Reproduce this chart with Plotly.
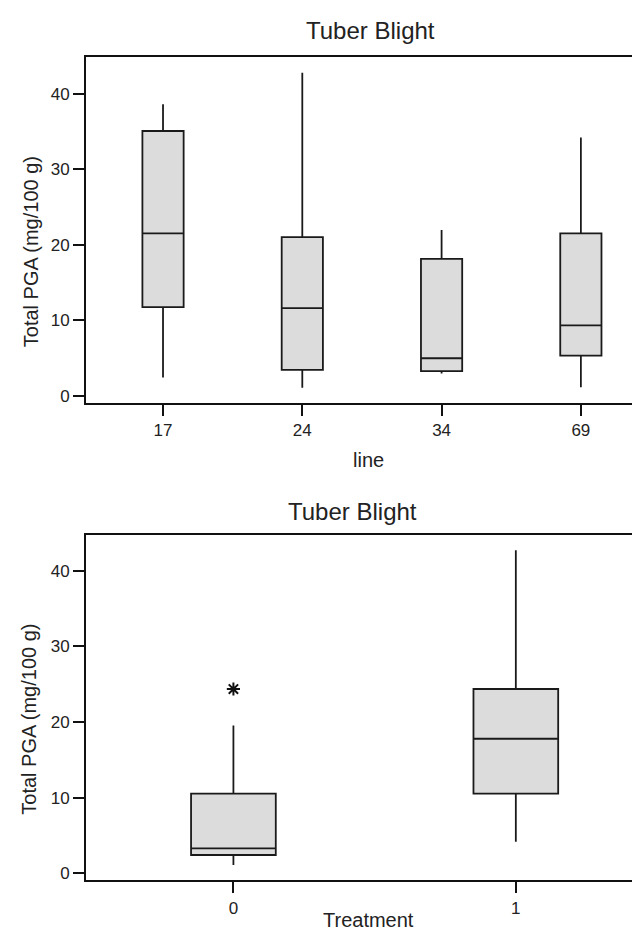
import plotly.graph_objects as go

W, H = 640, 932

# ---- data ----
lines = ["17", "24", "34", "69"]
line_q1 = [11.75, 3.43, 3.26, 5.32]
line_median = [21.5, 11.6, 4.97, 9.33]
line_q3 = [35.07, 21.0, 18.13, 21.5]
line_low = [2.42, 1.06, 2.95, 1.14]
line_high = [38.6, 42.77, 21.96, 34.2]

treatments = ["0", "1"]
trt_q1 = [2.41, 10.54]
trt_median = [3.29, 17.79]
trt_q3 = [10.54, 24.37]
trt_low = [1.09, 4.16]
trt_high = [19.54, 42.73]
trt_outlier_x = ["0"]
trt_outlier_y = [24.37]

y_ticks = [0, 10, 20, 30, 40]

FONT = "Liberation Sans, Arial, sans-serif"
TXT = "#222222"
FILL = "#dcdcdc"

fig = go.Figure()

fig.add_trace(go.Box(
    x=lines, q1=line_q1, median=line_median, q3=line_q3,
    lowerfence=line_low, upperfence=line_high,
    fillcolor=FILL, line=dict(color="#1a1a1a", width=1.8),
    whiskerwidth=0, width=0.296, boxpoints=False, showlegend=False,
    xaxis="x", yaxis="y", hoverinfo="skip"))

fig.add_trace(go.Box(
    x=treatments, q1=trt_q1, median=trt_median, q3=trt_q3,
    lowerfence=trt_low, upperfence=trt_high,
    fillcolor=FILL, line=dict(color="#1a1a1a", width=1.8),
    whiskerwidth=0, width=0.30, boxpoints=False, showlegend=False,
    xaxis="x2", yaxis="y2", hoverinfo="skip"))

fig.add_trace(go.Scatter(
    x=trt_outlier_x, y=trt_outlier_y, mode="markers",
    marker=dict(symbol="asterisk-open", size=11, color="#111111",
                line=dict(color="#111111", width=2)),
    showlegend=False, xaxis="x2", yaxis="y2", hoverinfo="skip"))

xd = [78 / W, 1.0]

def fy(py):
    return 1 - py / H

axis_common = dict(
    showgrid=False, zeroline=False, showline=True, linecolor="#111111",
    linewidth=2, ticks="outside", ticklen=11, tickwidth=1.8,
    tickcolor="#111111", tickfont=dict(family=FONT, size=17, color=TXT),
)

fig.update_layout(
    width=W, height=H, margin=dict(l=0, r=0, t=0, b=0),
    paper_bgcolor="white", plot_bgcolor="white",
    font=dict(family=FONT, color=TXT),
    xaxis=dict(domain=xd, anchor="y", type="category",
               range=[-0.553, 3.482], mirror=True, **axis_common),
    yaxis=dict(domain=[fy(396), fy(49.3)], anchor="x",
               range=[-0.92, 44.85], tickvals=y_ticks, **axis_common),
    xaxis2=dict(domain=xd, anchor="y2", type="category",
                range=[-0.522, 1.468], mirror=True, **axis_common),
    yaxis2=dict(domain=[fy(875), fy(528.3)], anchor="x2",
                range=[-0.92, 44.8], tickvals=y_ticks, **axis_common),
)

def ann(text, px, py, size, angle=0):
    fig.add_annotation(text=text, x=px / W, y=fy(py), xref="paper", yref="paper",
                       showarrow=False, textangle=angle, xanchor="center",
                       yanchor="middle", borderpad=0,
                       font=dict(family=FONT, size=size, color=TXT))

ann("Tuber Blight", 362, 23, 24)
ann("line", 360, 453, 20)
ann("Total PGA (mg/100 g)", 23, 245, 20, -90)

ann("Tuber Blight", 344, 505, 24)
ann("Treatment", 360, 915, 20)
ann("Total PGA (mg/100 g)", 21, 714, 20, -90)

fig.write_html("out.html")
